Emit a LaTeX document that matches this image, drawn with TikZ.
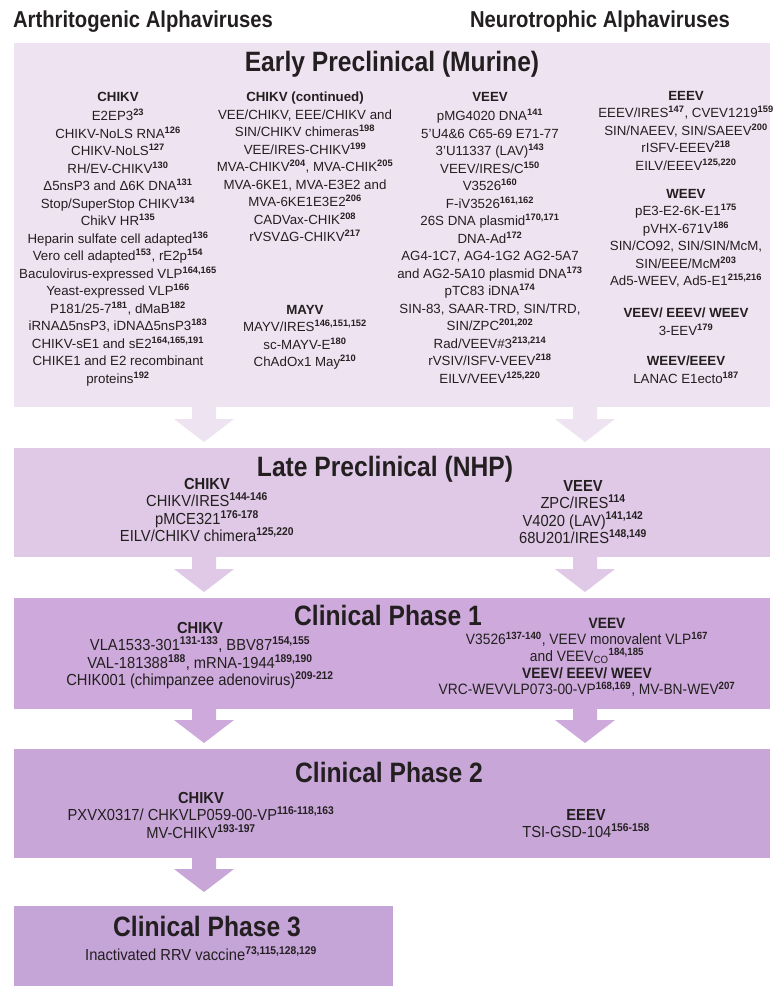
\documentclass[tikz,border=0pt]{standalone}
\usepackage{fontspec}
\setmainfont{Liberation Sans}
\newfontfamily\narrow[FakeStretch=0.92]{Liberation Sans}
\newfontfamily\titlefont[FakeStretch=0.88]{Liberation Sans}
\definecolor{ink}{HTML}{231F20}
\definecolor{cEarly}{HTML}{EEE4F1}
\definecolor{cLate}{HTML}{E0C9E6}
\definecolor{cPone}{HTML}{CDAADB}
\definecolor{cPtwo}{HTML}{C8A7D8}
\definecolor{cPthree}{HTML}{C5A4D7}
\newcommand\rf[1]{\textsuperscript{\bfseries #1}}
\newcommand\blockarrow[4]{\fill[#4] (#1-12,#2) -- (#1+12,#2) -- (#1+12,#3-23) -- (#1+30,#3-23) -- (#1,#3) -- (#1-30,#3-23) -- (#1-12,#3-23) -- cycle;}
\begin{document}
\begin{tikzpicture}[x=1pt,y=-1pt,
  stage/.style={draw=none, inner sep=0pt, anchor=north west},
  hdr/.style={font=\titlefont\bfseries\fontsize{23}{23}\selectfont, text=ink, inner sep=0pt},
  ttl/.style={font=\titlefont\bfseries\fontsize{28}{28}\selectfont, text=ink, inner sep=0pt},
  ebody/.style={align=center, inner sep=0pt, anchor=north, text=ink, font=\fontsize{13.3}{17.5}\selectfont},
  lbody/.style={align=center, inner sep=0pt, anchor=north, text=ink, font=\narrow\fontsize{16}{17.5}\selectfont}]
\useasboundingbox (0,0) rectangle (784,1001);
\fill[white] (0,0) rectangle (784,1001);
% headers
\node[hdr] (arth) at (143,22) {Arthritogenic Alphaviruses};
\node[hdr] (neuro) at (600,22) {Neurotrophic Alphaviruses};
% boxes
\node[stage, fill=cEarly, minimum width=756, minimum height=364] (early) at (14,43) {};
\node[stage, fill=cLate, minimum width=756, minimum height=109] (late) at (14,448) {};
\node[stage, fill=cPone, minimum width=756, minimum height=111] (pone) at (14,598) {};
\node[stage, fill=cPtwo, minimum width=756, minimum height=109] (ptwo) at (14,749) {};
\node[stage, fill=cPthree, minimum width=379, minimum height=80] (pthree) at (14,906) {};
% arrows
\blockarrow{204}{407}{442}{cEarly}
\blockarrow{585}{407}{442}{cEarly}
\blockarrow{204}{557}{592}{cLate}
\blockarrow{585}{557}{592}{cLate}
\blockarrow{204}{709}{743}{cPone}
\blockarrow{585}{709}{743}{cPone}
\blockarrow{204}{858}{892}{cPtwo}
% early preclinical
\node[ttl] (tearly) at (392,64) {Early Preclinical (Murine)};
\node[ebody] (ea) at (118,92) {\textbf{CHIKV}\\[2pt]
E2EP3\rf{23}\\
CHIKV-NoLS RNA\rf{126}\\
CHIKV-NoLS\rf{127}\\
RH/EV-CHIKV\rf{130}\\
Δ5nsP3 and Δ6K DNA\rf{131}\\
Stop/SuperStop CHIKV\rf{134}\\
ChikV HR\rf{135}\\
Heparin sulfate cell adapted\rf{136}\\
Vero cell adapted\rf{153}, rE2p\rf{154}\\
Baculovirus-expressed VLP\rf{164,165}\\
Yeast-expressed VLP\rf{166}\\
P181/25-7\rf{181}, dMaB\rf{182}\\
iRNAΔ5nsP3, iDNAΔ5nsP3\rf{183}\\
CHIKV-sE1 and sE2\rf{164,165,191}\\
CHIKE1 and E2 recombinant\\
proteins\rf{192}};
\node[ebody] (eb) at (305,92) {\textbf{CHIKV (continued)}\\
VEE/CHIKV, EEE/CHIKV and\\
SIN/CHIKV chimeras\rf{198}\\
VEE/IRES-CHIKV\rf{199}\\
MVA-CHIKV\rf{204}, MVA-CHIK\rf{205}\\
MVA-6KE1, MVA-E3E2 and\\
MVA-6KE1E3E2\rf{206}\\
CADVax-CHIK\rf{208}\\
rVSVΔG-CHIKV\rf{217}};
\node[ebody] (ec) at (305,305) {\textbf{MAYV}\\
MAYV/IRES\rf{146,151,152}\\
sc-MAYV-E\rf{180}\\
ChAdOx1 May\rf{210}};
\node[ebody] (ed) at (490,92) {\textbf{VEEV}\\[2pt]
pMG4020 DNA\rf{141}\\
5'U4\&6 C65-69 E71-77\\
3'U11337 (LAV)\rf{143}\\
VEEV/IRES/C\rf{150}\\
V3526\rf{160}\\
F-iV3526\rf{161,162}\\
26S DNA plasmid\rf{170,171}\\
DNA-Ad\rf{172}\\
AG4-1C7, AG4-1G2 AG2-5A7\\
and AG2-5A10 plasmid DNA\rf{173}\\
pTC83 iDNA\rf{174}\\
SIN-83, SAAR-TRD, SIN/TRD,\\
SIN/ZPC\rf{201,202}\\
Rad/VEEV\#3\rf{213,214}\\
rVSIV/ISFV-VEEV\rf{218}\\
EILV/VEEV\rf{125,220}};
\node[ebody] (ee) at (686,91) {\textbf{EEEV}\\
EEEV/IRES\rf{147}, CVEV1219\rf{159}\\
SIN/NAEEV, SIN/SAEEV\rf{200}\\
rISFV-EEEV\rf{218}\\
EILV/EEEV\rf{125,220}};
\node[ebody] (ef) at (686,189) {\textbf{WEEV}\\
pE3-E2-6K-E1\rf{175}\\
pVHX-671V\rf{186}\\
SIN/CO92, SIN/SIN/McM,\\
SIN/EEE/McM\rf{203}\\
Ad5-WEEV, Ad5-E1\rf{215,216}};
\node[ebody] (eg) at (686,308) {\textbf{VEEV/ EEEV/ WEEV}\\
3-EEV\rf{179}};
\node[ebody] (eh) at (686,356) {\textbf{WEEV/EEEV}\\
LANAC E1ecto\rf{187}};
% late preclinical
\node[ttl] (tlate) at (385,469) {Late Preclinical (NHP)};
\node[lbody] (la) at (207,478) {\textbf{CHIKV}\\
CHIKV/IRES\rf{144-146}\\
pMCE321\rf{176-178}\\
EILV/CHIKV chimera\rf{125,220}};
\node[lbody] (lb) at (583,480) {\textbf{VEEV}\\
ZPC/IRES\rf{114}\\
V4020 (LAV)\rf{141,142}\\
68U201/IRES\rf{148,149}};
% phase 1
\node[ttl] (tone) at (388,615) {Clinical Phase 1};
\node[lbody] (oa) at (200,622) {\textbf{CHIKV}\\
VLA1533-301\rf{131-133}, BBV87\rf{154,155}\\
VAL-181388\rf{188}, mRNA-1944\rf{189,190}\\
CHIK001 (chimpanzee adenovirus)\rf{209-212}};
\node[lbody, font=\narrow\fontsize{15}{16.3}\selectfont] (ob) at (587,618) {\hspace*{40pt}\textbf{VEEV}\\
V3526\rf{137-140}, VEEV monovalent VLP\rf{167}\\
and VEEV\textsubscript{CO}\rf{184,185}\hspace*{36pt}\\[1pt]
\textbf{VEEV/ EEEV/ WEEV}\\
VRC-WEVVLP073-00-VP\rf{168,169}, MV-BN-WEV\rf{207}};
% phase 2
\node[ttl] (ttwo) at (389,772) {Clinical Phase 2};
\node[lbody] (wa) at (201,792) {\textbf{CHIKV}\\
PXVX0317/ CHKVLP059-00-VP\rf{116-118,163}\\
MV-CHIKV\rf{193-197}};
\node[lbody] (wb) at (586,809) {\textbf{EEEV}\\
TSI-GSD-104\rf{156-158}};
% phase 3
\node[ttl] (tthree) at (207,927) {Clinical Phase 3};
\node[lbody] (ha) at (201,946) {Inactivated RRV vaccine\rf{73,115,128,129}};
\end{tikzpicture}
\end{document}
